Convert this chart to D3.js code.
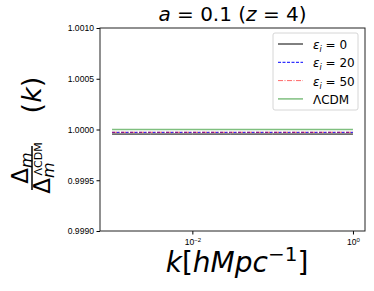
<!DOCTYPE html>
<html>
<head>
<meta charset="utf-8">
<script src="https://cdn.jsdelivr.net/npm/d3@7"></script>
<style>
  html, body { margin: 0; padding: 0; background: #fff; overflow: hidden; }
  svg { display: block; font-family: "DejaVu Sans", sans-serif; }
</style>
</head>
<body>
<div id="chart"></div>
<script>
// sample wavenumbers (k in h/Mpc) and ratio values
const kValues = [0.001, 0.003, 0.01, 0.03, 0.1, 0.3, 1];
const eps0 = [0.999955, 0.999955, 0.999955, 0.999955, 0.999955, 0.999955, 0.999955];
const eps20 = [0.999972, 0.999972, 0.999972, 0.999972, 0.999972, 0.999972, 0.999972];
const eps50 = [0.999973, 0.999973, 0.999973, 0.999973, 0.999973, 0.999973, 0.999973];
const lcdm = [1.0, 1.0, 1.0, 1.0, 1.0, 1.0, 1.0];
const yTicks = [0.999, 0.9995, 1.0, 1.0005, 1.001];
const xTicks = [0.01, 1];
const xTickExp = ["\u22122", "0"];

const width = 374, height = 291;
const margin = { top: 28, right: 9, bottom: 60, left: 100 };
const innerWidth = width - margin.left - margin.right;
const innerHeight = height - margin.top - margin.bottom;

const svg = d3.select("#chart")
    .append("svg")
    .attr("width", width)
    .attr("height", height);

const g = svg.append("g")
    .attr("transform", `translate(${margin.left},${margin.top})`);

const x = d3.scaleLog()
    .domain([Math.pow(10, -3.15), Math.pow(10, 0.15)])
    .range([0, innerWidth]);

const y = d3.scaleLinear()
    .domain([0.999, 1.001])
    .range([innerHeight, 0]);

const series = [
    { name: "eps0", values: eps0, color: "#000000", width: 1, dash: null, opacity: 1 },
    { name: "eps20", values: eps20, color: "#0000ff", width: 1, dash: "3,1.5", opacity: 1 },
    { name: "eps50", values: eps50, color: "#ff0000", width: 1, dash: "5,1.5,1,1.5", opacity: 0.6 },
    { name: "lcdm", values: lcdm, color: "#008000", width: 1.5, dash: null, opacity: 0.5 }
];

const line = d3.line()
    .x(d => x(d[0]))
    .y(d => y(d[1]));

g.selectAll(".series")
    .data(series)
    .enter()
    .append("path")
    .attr("class", "series")
    .attr("d", d => line(kValues.map((k, i) => [k, d.values[i]])))
    .style("fill", "none")
    .style("stroke", d => d.color)
    .style("stroke-width", d => d.width)
    .style("stroke-opacity", d => d.opacity)
    .style("stroke-dasharray", d => d.dash);

// y axis
const yAxis = g.append("g")
    .call(d3.axisLeft(y).tickValues(yTicks).tickFormat(d3.format(".4f")).tickSize(3.5).tickPadding(2.5));
yAxis.select(".domain").remove();
yAxis.selectAll("text").style("font-size", "8.6px").style("fill", "#000");

// x axis
const xAxis = g.append("g")
    .attr("transform", `translate(0,${innerHeight})`)
    .call(d3.axisBottom(x).tickValues(xTicks).tickFormat("").tickSize(3.5));
xAxis.select(".domain").remove();
xAxis.selectAll(".tick").each(function(d, i) {
    const t = d3.select(this).append("text")
        .attr("y", 14)
        .attr("text-anchor", "middle")
        .style("font-size", "8.6px")
        .style("fill", "#000");
    t.append("tspan").text("10");
    t.append("tspan").attr("dy", -3.5).style("font-size", "6px").text(xTickExp[i]);
});

// frame
g.append("rect")
    .attr("width", innerWidth)
    .attr("height", innerHeight)
    .style("fill", "none")
    .style("stroke", "#222")
    .style("stroke-width", 1);

// title
const title = svg.append("text")
    .attr("x", margin.left + innerWidth / 2)
    .attr("y", 21)
    .attr("text-anchor", "middle")
    .style("font-size", "20px");
title.append("tspan").style("font-style", "italic").text("a");
title.append("tspan").text(" = 0.1 (");
title.append("tspan").style("font-style", "italic").text("z");
title.append("tspan").text(" = 4)");

// x label
const xl = svg.append("text")
    .attr("x", 237)
    .attr("y", 272)
    .attr("text-anchor", "middle")
    .style("font-size", "28px")
    .style("font-style", "italic");
xl.append("tspan").text("k");
xl.append("tspan").style("font-style", "normal").text("[");
xl.append("tspan").text("hMpc");
xl.append("tspan").attr("dy", -11).style("font-size", "20px").style("font-style", "normal").text("\u22121");
xl.append("tspan").attr("dy", 11).style("font-style", "normal").text("]");

// y label (fraction, rotated)
const yl = svg.append("g")
    .attr("transform", "translate(32,132) rotate(-90)");
const frac = yl.append("g").attr("transform", "translate(-36,0)");
frac.append("line")
    .attr("x1", -22).attr("x2", 22)
    .attr("y1", 0).attr("y2", 0)
    .style("stroke", "#000")
    .style("stroke-width", 1.5);
const num = frac.append("text")
    .attr("x", 0).attr("y", -4)
    .attr("text-anchor", "middle")
    .style("font-size", "23px");
num.append("tspan").text("\u0394");
num.append("tspan").attr("dy", 4).style("font-size", "16px").style("font-style", "italic").text("m");
const den = frac.append("text")
    .attr("x", 0).attr("y", 18)
    .attr("text-anchor", "middle")
    .style("font-size", "23px");
den.append("tspan").text("\u0394");
den.append("tspan").attr("dy", 4).style("font-size", "16px").style("font-style", "italic").text("m");
den.append("tspan").attr("dx", -13).attr("dy", -12).style("font-size", "11px").text("\u039BCDM");
const kl = yl.append("text")
    .attr("x", 37).attr("y", 9)
    .attr("text-anchor", "middle")
    .style("font-size", "27px");
kl.append("tspan").text("(");
kl.append("tspan").style("font-style", "italic").text("k");
kl.append("tspan").text(")");

// legend
const legend = svg.append("g").attr("transform", "translate(273,33)");
legend.append("rect")
    .attr("width", 85).attr("height", 77)
    .attr("rx", 2)
    .style("fill", "#fff")
    .style("fill-opacity", 0.8)
    .style("stroke", "#ccc")
    .style("stroke-width", 0.8);
const legendLabels = [["0"], ["20"], ["50"], null];
const rows = legend.selectAll(".row")
    .data(series)
    .enter()
    .append("g")
    .attr("class", "row")
    .attr("transform", (d, i) => `translate(0,${11 + i * 18.3})`);
rows.append("line")
    .attr("x1", 5).attr("x2", 30)
    .style("stroke", d => d.color)
    .style("stroke-width", d => d.width)
    .style("stroke-opacity", d => d.opacity)
    .style("stroke-dasharray", d => d.dash);
rows.each(function(d, i) {
    const t = d3.select(this).append("text")
        .attr("x", 40).attr("y", 5)
        .style("font-size", "12px");
    if (legendLabels[i]) {
        t.append("tspan").style("font-style", "italic").text("\u03B5");
        t.append("tspan").attr("dy", 3).style("font-size", "8px").style("font-style", "italic").text("i");
        t.append("tspan").attr("dy", -3).text(" = " + legendLabels[i][0]);
    } else {
        t.text("\u039BCDM");
    }
});
</script>
</body>
</html>
